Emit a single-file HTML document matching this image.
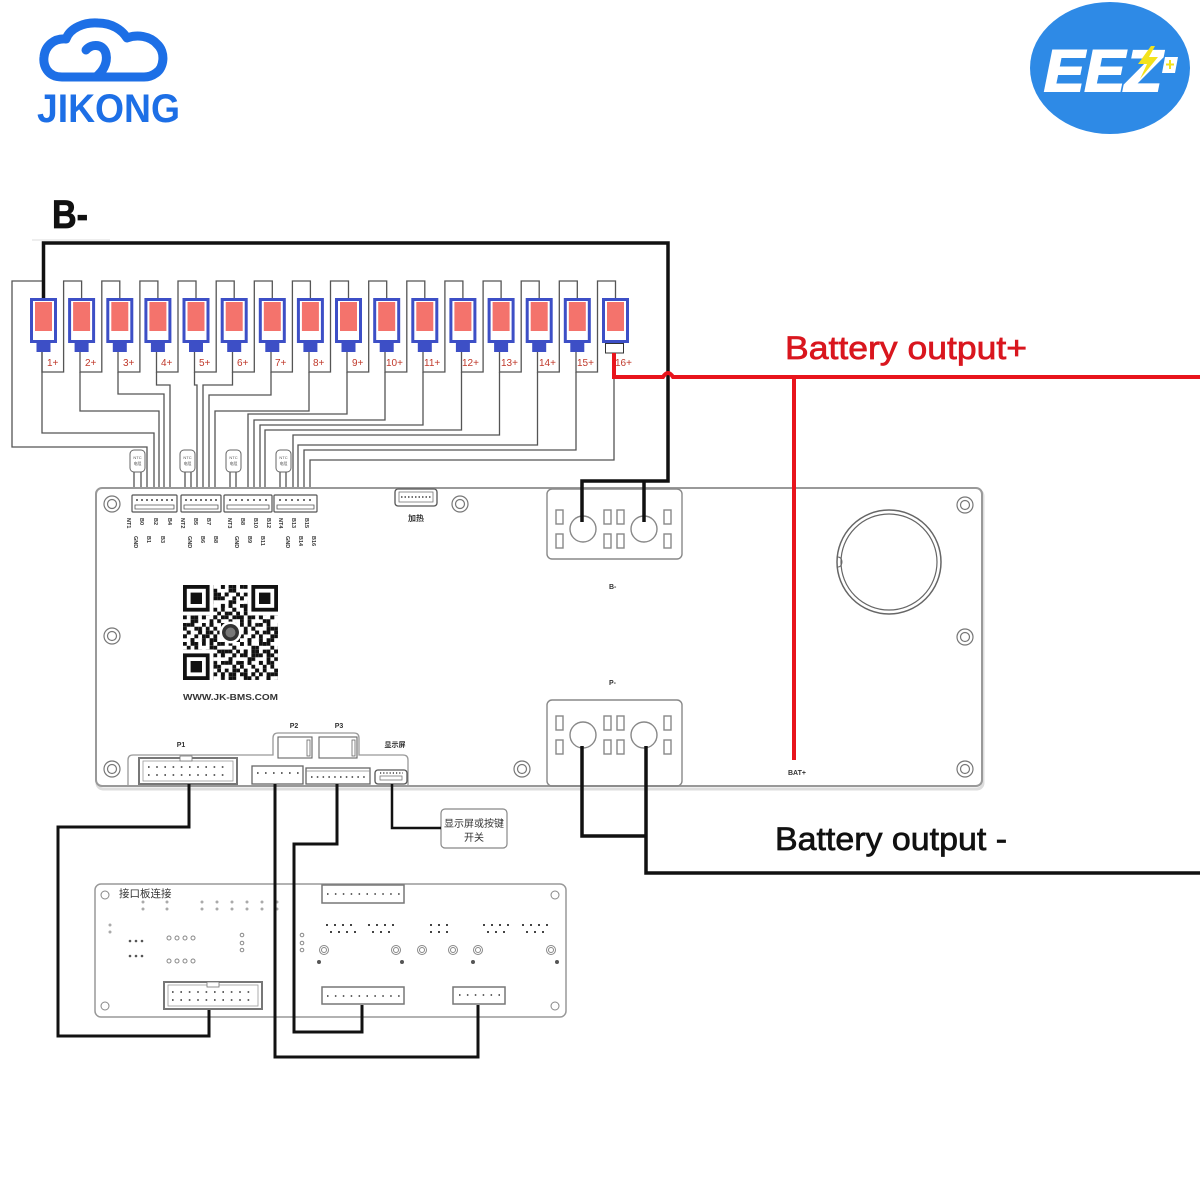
<!DOCTYPE html>
<html><head><meta charset="utf-8"><style>
html,body{margin:0;padding:0;background:#fff;}
svg{display:block;}
text{font-family:"Liberation Sans","Noto Sans CJK SC",sans-serif;}
</style></head><body>
<svg width="1200" height="1200" viewBox="0 0 1200 1200" xmlns="http://www.w3.org/2000/svg">
<defs>
<pattern id="pa" x="183" y="585" width="19" height="19" patternUnits="userSpaceOnUse">
<path d="M0 0h3.8v3.8h-3.8zM7.6 0h3.8v3.8h-3.8zM11.4 3.8h3.8v3.8h-3.8zM3.8 7.6h3.8v3.8h-3.8zM15.2 7.6h3.8v3.8h-3.8zM0 11.4h3.8v3.8h-3.8zM11.4 11.4h3.8v3.8h-3.8zM7.6 15.2h3.8v3.8h-3.8z" fill="#111"/>
</pattern>
<pattern id="pb" x="183" y="585" width="22.8" height="22.8" patternUnits="userSpaceOnUse">
<path d="M3.8 0h3.8v3.8h-3.8zM15.2 0h3.8v3.8h-3.8zM0 3.8h3.8v3.8h-3.8zM19 7.6h3.8v3.8h-3.8zM7.6 7.6h3.8v3.8h-3.8zM11.4 11.4h3.8v3.8h-3.8zM3.8 15.2h3.8v3.8h-3.8zM15.2 19h3.8v3.8h-3.8zM0 19h3.8v3.8h-3.8z" fill="#111"/>
</pattern>
</defs>

<!-- JIKONG logo -->
<g fill="none" stroke="#1d6fe6" stroke-width="9" stroke-linejoin="round" stroke-linecap="round">
<path d="M62 77 C47 77 43 65 44 57 C45 46 54 38 66 39 C70 28 84 22 98 23 C112 23 122 30 127 38 C137 34 150 36 157 44 C166 52 164 68 156 73 C152 76 148 77 144 77 Z"/>
<path d="M86 50 C92 43 104 44 106 54 C108 64 102 72 96 77"/>
</g>
<text x="37" y="122" font-size="40" font-weight="bold" fill="#1d6fe6" textLength="143" lengthAdjust="spacingAndGlyphs">JIKONG</text>

<!-- EEZ logo -->
<ellipse cx="1110" cy="68" rx="80" ry="66" fill="#2e8ae6"/>
<text x="1044" y="91" font-size="58" font-weight="bold" font-style="italic" fill="#fff" stroke="#fff" stroke-width="2" textLength="118" lengthAdjust="spacingAndGlyphs">EEZ</text>
<polygon points="1151,46 1138,64 1147,64 1140,79 1158,57 1149,57 1155,46" fill="#f3e21b"/>
<polygon points="1165,57 1178,57 1175,73 1162,73" fill="#fff"/>
<path d="M1170 60v9M1166 64.5h8" stroke="#f3e21b" stroke-width="2"/>

<!-- B- label -->
<text x="52" y="228" font-size="40" font-weight="bold" font-family="Liberation Serif, serif" fill="#111" stroke="#111" stroke-width="0.8" textLength="36" lengthAdjust="spacingAndGlyphs">B-</text>
<line x1="32" y1="240" x2="110" y2="240" stroke="#ddd" stroke-width="1"/>

<!-- thin wiring -->
<g fill="none" stroke="#555" stroke-width="1.3">
<path d="M42 352V372H63.6V281H81.6V298"/>
<path d="M80 352V372H101.8V281H119.8V298"/>
<path d="M118 352V372H139.9V281H157.9V298"/>
<path d="M156.5 352V372H178V281H196V298"/>
<path d="M194.5 352V372H216.2V281H234.2V298"/>
<path d="M232.5 352V372H254.3V281H272.3V298"/>
<path d="M271 352V372H292.4V281H310.4V298"/>
<path d="M309 352V372H330.5V281H348.5V298"/>
<path d="M347 352V372H368.7V281H386.7V298"/>
<path d="M385 352V372H406.8V281H424.8V298"/>
<path d="M423 352V372H444.9V281H462.9V298"/>
<path d="M461.5 352V372H483.1V281H501.1V298"/>
<path d="M499.5 352V372H521.2V281H539.2V298"/>
<path d="M537.5 352V372H559.3V281H577.3V298"/>
<path d="M576 352V372H597.5V281H615.5V298"/>
<path d="M43.5 298V281H12V447H147V495"/>
<path d="M42 352V433H154V495"/>
<path d="M80 372V411H159V495"/>
<path d="M118 372V394H164V495"/>
<path d="M156.5 372V385H170V495"/>
<path d="M194.5 372V385H197V495"/>
<path d="M232.5 372V385H203V495"/>
<path d="M271 372V395H209V495"/>
<path d="M309 372V411H215V495"/>
<path d="M347 372V414H248V495"/>
<path d="M385 372V420H254V495"/>
<path d="M423 372V425H260V495"/>
<path d="M461.5 372V430H265V495"/>
<path d="M499.5 372V435H293V495"/>
<path d="M537.5 372V445H298V495"/>
<path d="M576 372V450H304V495"/>
<path d="M614 353V460H310V495"/>
<path d="M134 472V495M141 472V495M185 472V495M191 472V495M230 472V495M236 472V495M280 472V495M286 472V495"/>
</g>
<g fill="#fff" stroke="#666" stroke-width="1">
<rect x="130" y="450" width="15" height="22" rx="4"/>
<rect x="180" y="450" width="15" height="22" rx="4"/>
<rect x="226" y="450" width="15" height="22" rx="4"/>
<rect x="276" y="450" width="15" height="22" rx="4"/>
</g>
<g font-size="4" fill="#555" text-anchor="middle">
<text x="137.5" y="459">NTC</text><text x="137.5" y="465">电阻</text>
<text x="187.5" y="459">NTC</text><text x="187.5" y="465">电阻</text>
<text x="233.5" y="459">NTC</text><text x="233.5" y="465">电阻</text>
<text x="283.5" y="459">NTC</text><text x="283.5" y="465">电阻</text>
</g>

<!-- cells -->
<g>
<g fill="#3d4fc6">
<rect x="30" y="298" width="27" height="45"/><rect x="68.1" y="298" width="27" height="45"/><rect x="106.3" y="298" width="27" height="45"/><rect x="144.4" y="298" width="27" height="45"/>
<rect x="182.5" y="298" width="27" height="45"/><rect x="220.7" y="298" width="27" height="45"/><rect x="258.8" y="298" width="27" height="45"/><rect x="296.9" y="298" width="27" height="45"/>
<rect x="335" y="298" width="27" height="45"/><rect x="373.2" y="298" width="27" height="45"/><rect x="411.3" y="298" width="27" height="45"/><rect x="449.4" y="298" width="27" height="45"/>
<rect x="487.6" y="298" width="27" height="45"/><rect x="525.7" y="298" width="27" height="45"/><rect x="563.8" y="298" width="27" height="45"/><rect x="602" y="298" width="27" height="45"/>
</g>
<g fill="#fff">
<rect x="33" y="301" width="21" height="39"/><rect x="71.1" y="301" width="21" height="39"/><rect x="109.3" y="301" width="21" height="39"/><rect x="147.4" y="301" width="21" height="39"/>
<rect x="185.5" y="301" width="21" height="39"/><rect x="223.7" y="301" width="21" height="39"/><rect x="261.8" y="301" width="21" height="39"/><rect x="299.9" y="301" width="21" height="39"/>
<rect x="338" y="301" width="21" height="39"/><rect x="376.2" y="301" width="21" height="39"/><rect x="414.3" y="301" width="21" height="39"/><rect x="452.4" y="301" width="21" height="39"/>
<rect x="490.6" y="301" width="21" height="39"/><rect x="528.7" y="301" width="21" height="39"/><rect x="566.8" y="301" width="21" height="39"/><rect x="605" y="301" width="21" height="39"/>
</g>
<g fill="#f4736c">
<rect x="35" y="302" width="17" height="29"/><rect x="73.1" y="302" width="17" height="29"/><rect x="111.3" y="302" width="17" height="29"/><rect x="149.4" y="302" width="17" height="29"/>
<rect x="187.5" y="302" width="17" height="29"/><rect x="225.7" y="302" width="17" height="29"/><rect x="263.8" y="302" width="17" height="29"/><rect x="301.9" y="302" width="17" height="29"/>
<rect x="340" y="302" width="17" height="29"/><rect x="378.2" y="302" width="17" height="29"/><rect x="416.3" y="302" width="17" height="29"/><rect x="454.4" y="302" width="17" height="29"/>
<rect x="492.6" y="302" width="17" height="29"/><rect x="530.7" y="302" width="17" height="29"/><rect x="568.8" y="302" width="17" height="29"/><rect x="607" y="302" width="17" height="29"/>
</g>
<g fill="#3d4fc6">
<rect x="36.5" y="342" width="14" height="10"/><rect x="74.6" y="342" width="14" height="10"/><rect x="112.8" y="342" width="14" height="10"/><rect x="150.9" y="342" width="14" height="10"/>
<rect x="189" y="342" width="14" height="10"/><rect x="227.2" y="342" width="14" height="10"/><rect x="265.3" y="342" width="14" height="10"/><rect x="303.4" y="342" width="14" height="10"/>
<rect x="341.5" y="342" width="14" height="10"/><rect x="379.7" y="342" width="14" height="10"/><rect x="417.8" y="342" width="14" height="10"/><rect x="455.9" y="342" width="14" height="10"/>
<rect x="494.1" y="342" width="14" height="10"/><rect x="532.2" y="342" width="14" height="10"/><rect x="570.3" y="342" width="14" height="10"/>
</g>
<rect x="605.5" y="343.5" width="18" height="9.5" fill="#fff" stroke="#333" stroke-width="1"/>
</g>
<g font-size="10" fill="#c0392b">
<text x="47" y="366">1+</text><text x="85" y="366">2+</text><text x="123" y="366">3+</text><text x="161" y="366">4+</text>
<text x="199" y="366">5+</text><text x="237" y="366">6+</text><text x="275" y="366">7+</text><text x="313" y="366">8+</text>
<text x="352" y="366">9+</text><text x="386" y="366">10+</text><text x="424" y="366">11+</text><text x="462" y="366">12+</text>
<text x="501" y="366">13+</text><text x="539" y="366">14+</text><text x="577" y="366">15+</text><text x="615" y="366">16+</text>
</g>

<!-- main board -->
<rect x="97" y="490" width="886" height="299" rx="6" fill="none" stroke="#ddd" stroke-width="3"/>
<rect x="96" y="488" width="886" height="298" rx="6" fill="#fff" stroke="#999" stroke-width="2"/>

<g fill="#fff" stroke="#555" stroke-width="1.2">
<rect x="132" y="495" width="45" height="17" rx="1"/>
<rect x="181" y="495" width="40" height="17" rx="1"/>
<rect x="224" y="495" width="48" height="17" rx="1"/>
<rect x="274" y="495" width="43" height="17" rx="1"/>
<path d="M135 505H174V509H135Z M184 505H218V509H184Z M227 505H269V509H227Z M277 505H314V509H277Z" stroke-width="0.8"/>
</g>
<g fill="#444">
<circle cx="137" cy="500" r="1"/><circle cx="142" cy="500" r="1"/><circle cx="147" cy="500" r="1"/><circle cx="152" cy="500" r="1"/><circle cx="157" cy="500" r="1"/><circle cx="162" cy="500" r="1"/><circle cx="167" cy="500" r="1"/><circle cx="172" cy="500" r="1"/>
<circle cx="186" cy="500" r="1"/><circle cx="191" cy="500" r="1"/><circle cx="196" cy="500" r="1"/><circle cx="201" cy="500" r="1"/><circle cx="206" cy="500" r="1"/><circle cx="211" cy="500" r="1"/><circle cx="216" cy="500" r="1"/>
<circle cx="230" cy="500" r="1"/><circle cx="236" cy="500" r="1"/><circle cx="242" cy="500" r="1"/><circle cx="248" cy="500" r="1"/><circle cx="254" cy="500" r="1"/><circle cx="260" cy="500" r="1"/><circle cx="266" cy="500" r="1"/>
<circle cx="280" cy="500" r="1"/><circle cx="286" cy="500" r="1"/><circle cx="292" cy="500" r="1"/><circle cx="298" cy="500" r="1"/><circle cx="304" cy="500" r="1"/><circle cx="310" cy="500" r="1"/>
</g>
<g font-size="5.5" fill="#333" font-weight="bold">
<text transform="translate(127,518) rotate(90)">NT1</text><text transform="translate(140,518) rotate(90)">B0</text><text transform="translate(154,518) rotate(90)">B2</text><text transform="translate(168,518) rotate(90)">B4</text>
<text transform="translate(134,536) rotate(90)">GND</text><text transform="translate(147,536) rotate(90)">B1</text><text transform="translate(161,536) rotate(90)">B3</text>
<text transform="translate(181,518) rotate(90)">NT2</text><text transform="translate(194,518) rotate(90)">B5</text><text transform="translate(207,518) rotate(90)">B7</text>
<text transform="translate(188,536) rotate(90)">GND</text><text transform="translate(201,536) rotate(90)">B6</text><text transform="translate(214,536) rotate(90)">B8</text>
<text transform="translate(228,518) rotate(90)">NT3</text><text transform="translate(241,518) rotate(90)">B8</text><text transform="translate(254,518) rotate(90)">B10</text><text transform="translate(267,518) rotate(90)">B12</text>
<text transform="translate(235,536) rotate(90)">GND</text><text transform="translate(248,536) rotate(90)">B9</text><text transform="translate(261,536) rotate(90)">B11</text>
<text transform="translate(279,518) rotate(90)">NT4</text><text transform="translate(292,518) rotate(90)">B13</text><text transform="translate(305,518) rotate(90)">B15</text>
<text transform="translate(286,536) rotate(90)">GND</text><text transform="translate(299,536) rotate(90)">B14</text><text transform="translate(312,536) rotate(90)">B16</text>
</g>

<rect x="395" y="489" width="42" height="17" rx="3" fill="#fff" stroke="#555" stroke-width="1.3"/>
<rect x="399" y="492" width="34" height="10" fill="none" stroke="#777" stroke-width="0.8"/>
<path d="M401 497h30" stroke="#444" stroke-width="1.5" stroke-dasharray="1.5 2"/>
<text x="416" y="521" font-size="8" font-weight="bold" fill="#333" text-anchor="middle">加热</text>

<g fill="none" stroke="#777" stroke-width="1.2">
<circle cx="112" cy="504" r="8"/><circle cx="112" cy="504" r="4.5"/>
<circle cx="460" cy="504" r="8"/><circle cx="460" cy="504" r="4.5"/>
<circle cx="112" cy="636" r="8"/><circle cx="112" cy="636" r="4.5"/>
<circle cx="112" cy="769" r="8"/><circle cx="112" cy="769" r="4.5"/>
<circle cx="522" cy="769" r="8"/><circle cx="522" cy="769" r="4.5"/>
<circle cx="965" cy="505" r="8"/><circle cx="965" cy="505" r="4.5"/>
<circle cx="965" cy="637" r="8"/><circle cx="965" cy="637" r="4.5"/>
<circle cx="965" cy="769" r="8"/><circle cx="965" cy="769" r="4.5"/>
</g>

<circle cx="889" cy="562" r="52" fill="none" stroke="#666" stroke-width="1.5"/>
<circle cx="889" cy="562" r="48" fill="none" stroke="#666" stroke-width="1.2"/>
<path d="M838 557 A4 5 0 0 1 838 567" fill="none" stroke="#666" stroke-width="1"/>

<g fill="none" stroke="#888" stroke-width="1.4">
<rect x="547" y="489" width="135" height="70" rx="5"/>
<rect x="547" y="700" width="135" height="86" rx="5"/>
<circle cx="583" cy="529" r="13"/><circle cx="644" cy="529" r="13"/>
<circle cx="583" cy="735" r="13"/><circle cx="644" cy="735" r="13"/>
<rect x="556" y="510" width="7" height="14"/><rect x="556" y="534" width="7" height="14"/>
<rect x="604" y="510" width="7" height="14"/><rect x="604" y="534" width="7" height="14"/>
<rect x="617" y="510" width="7" height="14"/><rect x="617" y="534" width="7" height="14"/>
<rect x="664" y="510" width="7" height="14"/><rect x="664" y="534" width="7" height="14"/>
<rect x="556" y="716" width="7" height="14"/><rect x="556" y="740" width="7" height="14"/>
<rect x="604" y="716" width="7" height="14"/><rect x="604" y="740" width="7" height="14"/>
<rect x="617" y="716" width="7" height="14"/><rect x="617" y="740" width="7" height="14"/>
<rect x="664" y="716" width="7" height="14"/><rect x="664" y="740" width="7" height="14"/>
</g>
<g font-size="7" font-weight="bold" fill="#333">
<text x="609" y="589">B-</text>
<text x="609" y="685">P-</text>
<text x="788" y="775">BAT+</text>
</g>

<g>
<rect x="183" y="585" width="95" height="95" fill="url(#pa)"/>
<rect x="183" y="585" width="95" height="95" fill="url(#pb)"/>
<g fill="#fff">
<rect x="183" y="585" width="30.4" height="30.4"/>
<rect x="247.6" y="585" width="30.4" height="30.4"/>
<rect x="183" y="649.6" width="30.4" height="30.4"/>
</g>
<g fill="none" stroke="#111" stroke-width="3.8">
<rect x="184.9" y="586.9" width="22.8" height="22.8"/>
<rect x="253.3" y="586.9" width="22.8" height="22.8"/>
<rect x="184.9" y="655.3" width="22.8" height="22.8"/>
</g>
<g fill="#111">
<rect x="190.6" y="592.6" width="11.4" height="11.4"/>
<rect x="259" y="592.6" width="11.4" height="11.4"/>
<rect x="190.6" y="661" width="11.4" height="11.4"/>
</g>
<circle cx="230.5" cy="632.5" r="11" fill="#fff"/>
<circle cx="230.5" cy="632.5" r="8.5" fill="#333"/>
<circle cx="230.5" cy="632.5" r="5" fill="#777"/>
</g>
<text x="230.5" y="700" font-size="8.5" font-weight="bold" fill="#333" text-anchor="middle" textLength="95" lengthAdjust="spacingAndGlyphs">WWW.JK-BMS.COM</text>

<path d="M128 786V760Q128 755 133 755H273V738Q273 733 278 733H354Q359 733 359 738V755H403Q408 755 408 760V786" fill="none" stroke="#999" stroke-width="1.3"/>
<g fill="#fff" stroke="#666" stroke-width="1.1">
<rect x="278" y="737" width="34" height="21"/>
<rect x="319" y="737" width="38" height="21"/>
</g>
<rect x="307" y="740" width="3" height="16" fill="none" stroke="#666" stroke-width="0.8"/>
<rect x="352" y="740" width="3" height="16" fill="none" stroke="#666" stroke-width="0.8"/>
<g font-size="7" font-weight="bold" fill="#333" text-anchor="middle">
<text x="181" y="747">P1</text>
<text x="294" y="728">P2</text>
<text x="339" y="728">P3</text>
<text x="395" y="747">显示屏</text>
</g>
<rect x="139" y="758" width="98" height="26" fill="#fff" stroke="#777" stroke-width="2"/>
<rect x="143" y="761" width="90" height="20" fill="none" stroke="#999" stroke-width="0.8"/>
<rect x="180" y="756" width="12" height="5" fill="#fff" stroke="#777" stroke-width="0.8"/>
<path d="M148 767H230M148 775H230" stroke="#333" stroke-width="1.6" stroke-dasharray="1.6 6.6"/>
<rect x="252" y="766" width="51" height="18" fill="#fff" stroke="#666" stroke-width="1.3"/>
<path d="M257 773H300" stroke="#333" stroke-width="1.6" stroke-dasharray="1.6 6.4"/>
<rect x="306" y="768" width="64" height="16" fill="#fff" stroke="#666" stroke-width="1.3"/>
<path d="M306 771H370" stroke="#888" stroke-width="0.8"/>
<path d="M311 777H368" stroke="#333" stroke-width="1.5" stroke-dasharray="1.5 4.3"/>
<rect x="375" y="770" width="32" height="14" rx="3" fill="#fff" stroke="#555" stroke-width="1.3"/>
<path d="M380 773H403" stroke="#444" stroke-width="1.5" stroke-dasharray="1.2 2"/>
<rect x="380" y="776" width="22" height="4" fill="none" stroke="#777" stroke-width="0.8"/>

<rect x="441" y="809" width="66" height="39" rx="4" fill="#fff" stroke="#888" stroke-width="1.2"/>
<text x="474" y="827" font-size="10" fill="#333" text-anchor="middle">显示屏或按键</text>
<text x="474" y="841" font-size="10" fill="#333" text-anchor="middle">开关</text>

<rect x="95" y="884" width="471" height="133" rx="6" fill="#fff" stroke="#999" stroke-width="1.5"/>
<text x="119" y="897" font-size="10.5" fill="#333">接口板连接</text>
<g fill="none" stroke="#888" stroke-width="1">
<circle cx="105" cy="895" r="4"/><circle cx="105" cy="1006" r="4"/><circle cx="555" cy="895" r="4"/><circle cx="555" cy="1006" r="4"/>
<circle cx="324" cy="950" r="4.5"/><circle cx="324" cy="950" r="2.5"/>
<circle cx="396" cy="950" r="4.5"/><circle cx="396" cy="950" r="2.5"/>
<circle cx="422" cy="950" r="4.5"/><circle cx="422" cy="950" r="2.5"/>
<circle cx="453" cy="950" r="4.5"/><circle cx="453" cy="950" r="2.5"/>
<circle cx="478" cy="950" r="4.5"/><circle cx="478" cy="950" r="2.5"/>
<circle cx="551" cy="950" r="4.5"/><circle cx="551" cy="950" r="2.5"/>
<circle cx="169" cy="938" r="2"/><circle cx="177" cy="938" r="2"/><circle cx="185" cy="938" r="2"/><circle cx="193" cy="938" r="2"/>
<circle cx="169" cy="961" r="2"/><circle cx="177" cy="961" r="2"/><circle cx="185" cy="961" r="2"/><circle cx="193" cy="961" r="2"/>
<circle cx="242" cy="935" r="1.8"/><circle cx="242" cy="943" r="1.8"/><circle cx="242" cy="950" r="1.8"/>
<circle cx="302" cy="935" r="1.8"/><circle cx="302" cy="943" r="1.8"/><circle cx="302" cy="950" r="1.8"/>
</g>
<g fill="#555">
<circle cx="319" cy="962" r="2"/><circle cx="402" cy="962" r="2"/><circle cx="473" cy="962" r="2"/><circle cx="557" cy="962" r="2"/>
</g>
<g fill="#aaa">
<circle cx="143" cy="902" r="1.5"/><circle cx="143" cy="909" r="1.5"/><circle cx="167" cy="902" r="1.5"/><circle cx="167" cy="909" r="1.5"/>
<circle cx="202" cy="902" r="1.5"/><circle cx="202" cy="909" r="1.5"/><circle cx="217" cy="902" r="1.5"/><circle cx="217" cy="909" r="1.5"/>
<circle cx="232" cy="902" r="1.5"/><circle cx="232" cy="909" r="1.5"/><circle cx="247" cy="902" r="1.5"/><circle cx="247" cy="909" r="1.5"/>
<circle cx="262" cy="902" r="1.5"/><circle cx="262" cy="909" r="1.5"/><circle cx="277" cy="902" r="1.5"/><circle cx="277" cy="909" r="1.5"/>
<circle cx="110" cy="925" r="1.5"/><circle cx="110" cy="932" r="1.5"/>
</g>
<g fill="#555">
<circle cx="130" cy="941" r="1.3"/><circle cx="136" cy="941" r="1.3"/><circle cx="142" cy="941" r="1.3"/>
<circle cx="130" cy="956" r="1.3"/><circle cx="136" cy="956" r="1.3"/><circle cx="142" cy="956" r="1.3"/>
</g>
<g stroke="#444" stroke-width="2" stroke-dasharray="2 6">
<path d="M326 925H354M330 932H356M368 925H394M372 932H396M430 925H450M430 932H450M483 925H509M487 932H511M522 925H548M526 932H550"/>
</g>
<rect x="164" y="982" width="98" height="27" fill="#fff" stroke="#777" stroke-width="2"/>
<rect x="168" y="985" width="90" height="21" fill="none" stroke="#999" stroke-width="0.8"/>
<rect x="207" y="982" width="12" height="5" fill="#fff" stroke="#777" stroke-width="0.8"/>
<path d="M172 992H256M172 1000H256" stroke="#333" stroke-width="1.6" stroke-dasharray="1.6 6.8"/>
<rect x="322" y="885" width="82" height="18" fill="#fff" stroke="#777" stroke-width="1.5"/>
<path d="M327 894H400" stroke="#333" stroke-width="1.5" stroke-dasharray="1.5 6.4"/>
<rect x="322" y="987" width="82" height="17" fill="#fff" stroke="#777" stroke-width="1.5"/>
<path d="M327 996H400" stroke="#333" stroke-width="1.5" stroke-dasharray="1.5 6.4"/>
<rect x="453" y="987" width="52" height="17" fill="#fff" stroke="#777" stroke-width="1.5"/>
<path d="M459 995H501" stroke="#333" stroke-width="1.5" stroke-dasharray="1.5 6.4"/>

<g fill="none" stroke="#111" stroke-width="3" stroke-linejoin="miter">
<path d="M189 784V827H58V1036H209V1010"/>
<path d="M275 784V1057H478V1005"/>
<path d="M337 784V844H294V1032H362V1005"/>
</g>
<path d="M392 784V828H441" fill="none" stroke="#111" stroke-width="2.5"/>

<g fill="none" stroke="#111" stroke-width="3.5" stroke-linejoin="miter">
<path d="M43.5 298V243H668V481H582V522"/>
<path d="M644 481V522"/>
<path d="M582 746V836H646"/>
<path d="M646 746V873H1200"/>
</g>

<g fill="none" stroke="#e8141c" stroke-width="4">
<path d="M614 353V377H663Q668 369 673 377H1200"/>
<path d="M794 377V760"/>
</g>

<text x="785" y="359" font-size="32" fill="#d9161e" stroke="#d9161e" stroke-width="0.7" textLength="242" lengthAdjust="spacingAndGlyphs">Battery output+</text>
<text x="775" y="850" font-size="32" fill="#111" stroke="#111" stroke-width="0.7" textLength="232" lengthAdjust="spacingAndGlyphs">Battery output -</text>
</svg>
</body></html>
